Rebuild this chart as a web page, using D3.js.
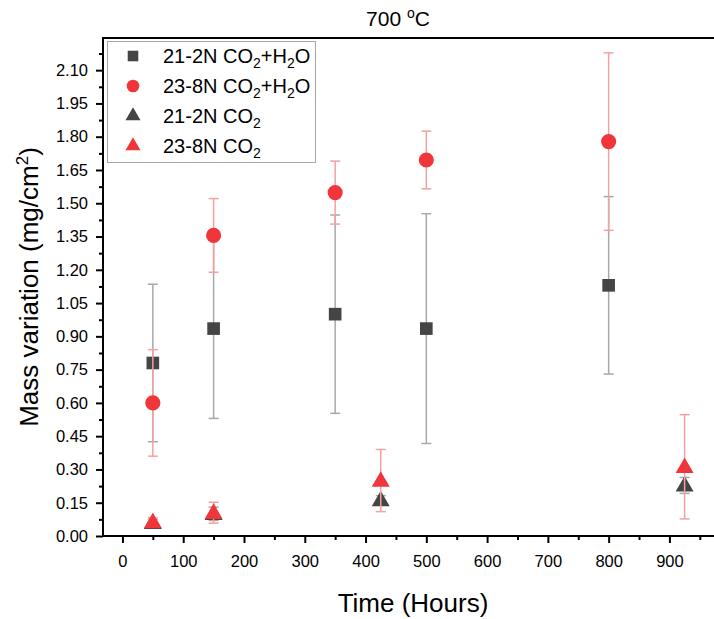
<!DOCTYPE html>
<html>
<head>
<meta charset="utf-8">
<script src="https://cdnjs.cloudflare.com/ajax/libs/d3/7.8.5/d3.min.js"></script>
<style>
  body { margin: 0; background: #fff; }
  svg { display: block; font-family: "Liberation Sans", Arial, sans-serif; }
</style>
</head>
<body>
<div id="container"></div>
<script>
// hours for each series
const hoursWet = [50, 150, 350, 500, 800]
const hoursDry = [50, 150, 425, 925]

// 21-2N CO2+H2O
const wet212 = [0.78, 0.935, 1.0, 0.935, 1.13]
const wet212Err = [0.355, 0.405, 0.447, 0.518, 0.40]
// 23-8N CO2+H2O
const wet238 = [0.60, 1.355, 1.548, 1.695, 1.778]
const wet238Err = [0.24, 0.166, 0.142, 0.13, 0.40]
// 21-2N CO2
const dry212 = [0.06, 0.10, 0.162, 0.228]
const dry212Err = [0.015, 0.03, 0.02, 0.036]
// 23-8N CO2
const dry238 = [0.063, 0.105, 0.25, 0.312]
const dry238Err = [0.02, 0.047, 0.14, 0.235]

const xTicks = [0, 100, 200, 300, 400, 500, 600, 700, 800, 900]
const yTicks = [0, 0.15, 0.30, 0.45, 0.60, 0.75, 0.90, 1.05, 1.20, 1.35, 1.50, 1.65, 1.80, 1.95, 2.10]

const series = [
    { name: "21-2N", gas: "wet", shape: "square", color: "#454545", err: "#a8a8a8", x: hoursWet, y: wet212, e: wet212Err },
    { name: "23-8N", gas: "wet", shape: "circle", color: "#f0353b", err: "#f5a0a0", x: hoursWet, y: wet238, e: wet238Err },
    { name: "21-2N", gas: "dry", shape: "triangle", color: "#454545", err: "#a8a8a8", x: hoursDry, y: dry212, e: dry212Err },
    { name: "23-8N", gas: "dry", shape: "triangle", color: "#f0353b", err: "#f5a0a0", x: hoursDry, y: dry238, e: dry238Err }
]

const W = 714, H = 619
const pLeft = 103, pRight = 715, pTop = 38, pBottom = 536

const svg = d3.select("div#container")
    .append("svg")
    .attr("width", W)
    .attr("height", H)

const x = d3.scaleLinear().domain([-32, 975]).range([pLeft, pRight])
const y = d3.scaleLinear().domain([0, 2.245]).range([pBottom, pTop])

// minor ticks
const xMinor = d3.range(50, 975, 100)
const yMinor = d3.range(0.075, 2.245, 0.15)

svg.append("g")
    .attr("transform", `translate(0,${pBottom})`)
    .call(d3.axisBottom(x).tickValues(xMinor).tickSize(4).tickFormat(""))
svg.append("g")
    .attr("transform", `translate(0,${pBottom})`)
    .call(d3.axisBottom(x).tickValues(xTicks).tickSize(7).tickPadding(12).tickFormat(d3.format("d")))
svg.append("g")
    .attr("transform", `translate(${pLeft},0)`)
    .call(d3.axisLeft(y).tickValues(yMinor).tickSize(4).tickFormat(""))
svg.append("g")
    .attr("transform", `translate(${pLeft},0)`)
    .call(d3.axisLeft(y).tickValues(yTicks).tickSize(7).tickPadding(8).tickFormat(d3.format(".2f")))

svg.selectAll(".domain").remove()
svg.selectAll(".tick line").attr("stroke", "#000").attr("stroke-width", 2)
svg.selectAll(".tick text")
    .attr("fill", "#000")
    .style("font-size", "16.5px")

// frame
svg.append("rect")
    .attr("x", pLeft)
    .attr("y", pTop)
    .attr("width", pRight - pLeft)
    .attr("height", pBottom - pTop)
    .attr("fill", "none")
    .attr("stroke", "#000")
    .attr("stroke-width", 2)

const symbol = s => s === "square" ? d3.symbolSquare : s === "circle" ? d3.symbolCircle : d3.symbolTriangle
const symSize = s => s === "square" ? 160 : s === "circle" ? 180 : 140

// error bars + markers
series.forEach(s => {
    const pts = s.x.map((h, i) => ({ h: h, v: s.y[i], e: s.e[i] }))
    const g = svg.append("g")
    const eb = g.selectAll("g.err")
        .data(pts)
        .enter()
        .append("g")
        .attr("stroke", s.err)
        .attr("stroke-width", 1.5)
    eb.append("line")
        .attr("x1", d => x(d.h)).attr("x2", d => x(d.h))
        .attr("y1", d => y(d.v - d.e)).attr("y2", d => y(d.v + d.e))
    eb.append("line")
        .attr("x1", d => x(d.h) - 5).attr("x2", d => x(d.h) + 5)
        .attr("y1", d => y(d.v + d.e)).attr("y2", d => y(d.v + d.e))
    eb.append("line")
        .attr("x1", d => x(d.h) - 5).attr("x2", d => x(d.h) + 5)
        .attr("y1", d => y(d.v - d.e)).attr("y2", d => y(d.v - d.e))
    g.selectAll("path")
        .data(pts)
        .enter()
        .append("path")
        .attr("d", d3.symbol().type(symbol(s.shape)).size(symSize(s.shape)))
        .attr("transform", d => `translate(${x(d.h)},${y(d.v) + (s.shape === "triangle" ? 1 : 0)})`)
        .attr("fill", s.color)
})

// legend
const legend = svg.append("g")
legend.append("rect")
    .attr("x", 107.5)
    .attr("y", 41.5)
    .attr("width", 208)
    .attr("height", 121)
    .attr("fill", "#fff")
    .attr("stroke", "#a8a8a8")
    .attr("stroke-width", 1)

const legRows = legend.selectAll("g.row")
    .data(series)
    .enter()
    .append("g")
    .attr("transform", (d, i) => `translate(0,${56 + i * 30})`)

legRows.append("path")
    .attr("d", d => d3.symbol().type(symbol(d.shape)).size(symSize(d.shape) * 0.7)())
    .attr("transform", "translate(133,0)")
    .attr("fill", d => d.color)

const legText = legRows.append("text")
    .attr("x", 163)
    .attr("y", 7)
    .style("font-size", "20px")
    .attr("fill", "#000")
legText.append("tspan").text(d => d.name + " CO")
legText.append("tspan").attr("dy", 5).style("font-size", "14px").text("2")
legText.filter(d => d.gas === "wet").append("tspan").attr("dy", -5).text("+H")
legText.filter(d => d.gas === "wet").append("tspan").attr("dy", 5).style("font-size", "14px").text("2")
legText.filter(d => d.gas === "wet").append("tspan").attr("dy", -5).text("O")

// title
const title = svg.append("text")
    .attr("x", 398)
    .attr("y", 26)
    .attr("text-anchor", "middle")
    .style("font-size", "21px")
title.append("tspan").text("700 ")
title.append("tspan").attr("dy", -8).style("font-size", "14px").text("o")
title.append("tspan").attr("dy", 8).text("C")

// axis titles
svg.append("text")
    .attr("x", 413)
    .attr("y", 612)
    .attr("text-anchor", "middle")
    .style("font-size", "26px")
    .text("Time (Hours)")

const yt = svg.append("text")
    .attr("transform", `translate(38,${(pTop + pBottom) / 2}) rotate(-90)`)
    .attr("text-anchor", "middle")
    .style("font-size", "26px")
yt.append("tspan").text("Mass variation (mg/cm")
yt.append("tspan").attr("dy", -10).style("font-size", "17px").text("2")
yt.append("tspan").attr("dy", 10).text(")")
</script>
</body>
</html>
